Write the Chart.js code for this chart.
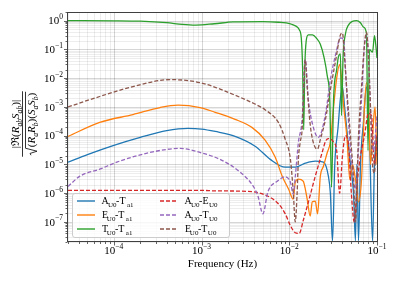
<!DOCTYPE html>
<html>
<head>
<meta charset="utf-8">
<script src="https://cdn.jsdelivr.net/npm/chart.js@4.4.0/dist/chart.umd.min.js"></script>
<style>
    html, body { margin: 0; padding: 0; background: #fff; }
</style>
</head>
<body>
<canvas id="grafico" width="399" height="284"></canvas>
<script>
// frequencies (Hz) and values, one pair of arrays per curve
const freqAT = [3e-5, 5e-5, 1e-4, 2e-4, 4e-4, 7e-4, 1e-3, 1.43e-3, 2.41e-3, 4.08e-3, 6.07e-3, 9.0e-3, 1.17e-2, 1.52e-2, 1.98e-2, 2.45e-2, 2.79e-2, 2.94e-2, 3.11e-2, 3.30e-2, 3.60e-2, 3.83e-2, 4.04e-2, 4.27e-2, 4.60e-2, 4.98e-2, 5.40e-2, 5.68e-2, 5.90e-2, 6.15e-2, 6.48e-2, 7.01e-2, 7.59e-2, 8.20e-2, 8.89e-2, 9.36e-2, 0.1];
const valAT  = [1.2e-5, 2.2e-5, 4.6e-5, 8.7e-5, 1.5e-4, 1.8e-4, 1.7e-4, 1.4e-4, 9.5e-5, 4.3e-5, 1.5e-5, 8e-6, 8e-6, 1.1e-5, 1.3e-5, 1.2e-5, 3.9e-6, 1e-6, 2.2e-8, 1e-5, 2e-4, 2e-3, 5e-3, 1e-3, 1e-4, 1e-5, 1e-6, 2.2e-8, 1e-5, 2.2e-8, 1e-5, 3e-4, 5e-3, 1e-4, 2.2e-8, 1e-5, 1e-4];

const freqET = [3e-5, 6.9e-5, 1.65e-4, 3.36e-4, 5.4e-4, 9.6e-4, 1.43e-3, 2.41e-3, 3.78e-3, 5.3e-3, 6.9e-3, 8.3e-3, 9.8e-3, 1.11e-2, 1.17e-2, 1.27e-2, 1.44e-2, 1.60e-2, 1.73e-2, 1.83e-2, 1.98e-2, 2.10e-2, 2.26e-2, 2.45e-2, 2.71e-2, 2.94e-2, 3.20e-2, 3.47e-2, 3.75e-2, 3.94e-2, 4.18e-2, 4.55e-2, 4.90e-2, 5.25e-2, 5.68e-2, 6.15e-2, 6.66e-2, 7.20e-2, 7.59e-2, 7.99e-2, 8.43e-2, 8.89e-2, 9.50e-2, 0.1];
const valET  = [9.4e-5, 2.9e-4, 5.4e-4, 9.5e-4, 1.15e-3, 9.5e-4, 6.5e-4, 3.7e-4, 1.9e-4, 7e-5, 1.8e-5, 3.9e-6, 1.4e-6, 6.2e-7, 2.4e-6, 3.1e-6, 2.6e-6, 6.2e-7, 1.6e-7, 5e-7, 5.3e-7, 1.9e-7, 3.9e-6, 8.6e-6, 2.6e-5, 6e-5, 1e-3, 1e-2, 3e-2, 1e-2, 1e-3, 8e-5, 3e-6, 1e-5, 3e-6, 5e-7, 3e-6, 1e-3, 7e-3, 2e-3, 1e-5, 1e-4, 1e-3, 1e-5];

const freqTT = [3e-5, 1e-4, 2e-4, 4e-4, 6e-4, 8.5e-4, 1.4e-3, 2.3e-3, 5e-3, 7.5e-3, 1.03e-2, 1.11e-2, 1.23e-2, 1.30e-2, 1.37e-2, 1.42e-2, 1.46e-2, 1.50e-2, 1.56e-2, 1.65e-2, 1.84e-2, 2.03e-2, 2.26e-2, 2.50e-2, 2.71e-2, 2.90e-2, 3.03e-2, 3.20e-2, 3.47e-2, 3.63e-2, 3.83e-2, 3.94e-2, 4.10e-2, 4.37e-2, 4.72e-2, 5.25e-2, 5.83e-2, 6.48e-2, 7.01e-2, 7.59e-2, 7.90e-2, 8.20e-2, 8.89e-2, 9.36e-2, 9.80e-2, 0.1];
const valTT  = [1.0, 0.99, 0.96, 0.85, 0.74, 0.70, 0.78, 0.90, 0.93, 0.88, 0.78, 0.71, 0.6, 0.48, 0.25, 0.02, 1.6e-4, 0.02, 0.2, 0.32, 0.32, 0.25, 0.15, 0.05, 0.012, 1.5e-3, 1.6e-6, 2e-3, 0.02, 0.055, 0.07, 5e-4, 0.05, 0.35, 0.7, 0.95, 1.0, 0.85, 0.6, 0.35, 3e-5, 0.1, 0.08, 0.3, 0.1, 0.05];

const freqAE = [3e-5, 1e-4, 1e-3, 1.43e-3, 3.4e-3, 5.3e-3, 7.5e-3, 9.0e-3, 1.03e-2, 1.17e-2, 1.30e-2, 1.44e-2, 1.65e-2, 1.98e-2, 2.38e-2, 2.58e-2, 2.79e-2, 3.20e-2, 3.47e-2, 3.75e-2, 4.04e-2, 4.37e-2, 4.72e-2, 5.10e-2, 5.50e-2, 6.00e-2, 6.48e-2, 7.20e-2, 7.99e-2, 8.65e-2, 9.36e-2, 0.1];
const valAE  = [1.25e-6, 1.25e-6, 1.25e-6, 1.2e-6, 1.15e-6, 8.7e-7, 4.3e-7, 1.9e-7, 7.4e-8, 4.2e-8, 4e-8, 1.1e-7, 4.9e-7, 3.9e-6, 2.7e-5, 6.2e-5, 7.9e-5, 6e-5, 3e-5, 1e-6, 2e-5, 1e-4, 5e-5, 1e-6, 1e-7, 3e-6, 2e-5, 1e-4, 6e-4, 5e-4, 1e-5, 1e-4];

const freqATu = [3e-5, 4.1e-5, 6.9e-5, 1.08e-4, 2.58e-4, 5.7e-4, 9.6e-4, 1.62e-3, 2.75e-3, 3.9e-3, 4.4e-3, 5.0e-3, 5.7e-3, 7.3e-3, 9.0e-3, 1.03e-2, 1.11e-2, 1.17e-2, 1.27e-2, 1.40e-2, 1.52e-2, 1.65e-2, 1.84e-2, 2.15e-2, 2.58e-2, 2.94e-2, 3.37e-2, 3.83e-2, 4.18e-2, 4.37e-2, 4.72e-2, 5.25e-2, 5.68e-2, 6.15e-2, 6.66e-2, 7.20e-2, 7.59e-2, 7.99e-2, 8.43e-2, 9.10e-2, 0.1];
const valATu  = [1.7e-6, 3.9e-6, 6.8e-6, 1.2e-5, 2.6e-5, 3.6e-5, 2.6e-5, 1.5e-5, 5.4e-6, 1.7e-6, 7.8e-7, 1.9e-7, 1.1e-6, 2.6e-6, 3.7e-6, 2.4e-6, 9.3e-7, 3.7e-6, 5.8e-5, 3.6e-4, 4.4e-2, 1.8e-3, 2.5e-4, 8.7e-5, 5.4e-4, 8.8e-3, 6.5e-2, 0.25, 0.2, 2e-2, 3.6e-4, 6.5e-6, 1.4e-6, 3.3e-5, 1.8e-3, 0.14, 0.32, 6.5e-2, 8e-4, 3e-5, 5e-4];

const freqETu = [3e-5, 6.9e-5, 1.65e-4, 4.4e-4, 9.6e-4, 2.3e-3, 4.7e-3, 5.3e-3, 7.5e-3, 9.0e-3, 1.03e-2, 1.11e-2, 1.17e-2, 1.23e-2, 1.27e-2, 1.33e-2, 1.40e-2, 1.52e-2, 1.60e-2, 1.73e-2, 1.88e-2, 2.10e-2, 2.26e-2, 2.58e-2, 2.94e-2, 3.37e-2, 3.83e-2, 4.04e-2, 4.27e-2, 4.60e-2, 4.98e-2, 5.40e-2, 5.68e-2, 6.15e-2, 6.66e-2, 7.20e-2, 7.59e-2, 7.99e-2, 8.43e-2, 8.89e-2, 9.36e-2, 9.80e-2];
const valETu  = [1e-3, 2.3e-3, 5.1e-3, 8.9e-3, 7e-3, 2.7e-3, 1e-3, 8e-4, 2.9e-4, 7.4e-5, 1.5e-5, 1.1e-6, 1e-7, 1.1e-6, 1.5e-5, 5.7e-5, 1.6e-4, 4.4e-2, 4.7e-3, 2.5e-4, 5.7e-5, 3.4e-5, 7.4e-5, 3.6e-4, 4e-3, 4e-2, 0.32, 0.37, 5e-2, 2e-3, 1e-4, 3e-6, 1e-7, 1e-4, 5e-3, 0.15, 0.4, 5e-2, 1e-3, 1e-5, 5e-6, 1e-4];

// legend labels: [main, subscript, main, subscript]
const labels = [
    ["A", "U0", "-T", "a1"],
    ["E", "U0", "-T", "a1"],
    ["T", "U0", "-T", "a1"],
    ["A", "U0", "-E", "U0"],
    ["A", "U0", "-T", "U0"],
    ["E", "U0", "-T", "U0"]
];
const cores = ["#1f77b4", "#ff7f0e", "#2ca02c", "#d62728", "#9467bd", "#8c564b"];
const tracejado = [false, false, false, true, true, true];

const xDecadas = [-4, -3, -2, -1];          // tick labels 10^n on x
const yDecadas = [-7, -6, -5, -4, -3, -2, -1, 0]; // tick labels 10^n on y

const series = [
    [freqAT, valAT], [freqET, valET], [freqTT, valTT],
    [freqAE, valAE], [freqATu, valATu], [freqETu, valETu]
];

const FONTE = '"Liberation Serif", "DejaVu Serif", serif';

// draws a run of text pieces, k: n normal, i italic, s subscript, si italic subscript
function textoRico(ctx, partes, x, y, tam, desenhar = true) {
    let cx = x;
    for (const [t, k] of partes) {
        const sub = k === "s" || k === "si";
        const ital = k === "i" || k === "si";
        const fs = sub ? tam * 0.7 : tam;
        ctx.font = (ital ? "italic " : "") + fs + "px " + FONTE;
        if (desenhar) ctx.fillText(t, cx, sub ? y + tam * 0.25 : y);
        cx += ctx.measureText(t).width;
    }
    return cx - x;
}

function potencia(ctx, exp, x, y, alinhar) {
    const base = "10", exps = exp === 0 ? "0" : "\u2212" + Math.abs(exp);
    ctx.font = "11px " + FONTE;
    const wb = ctx.measureText(base).width;
    ctx.font = "7.5px " + FONTE;
    const we = ctx.measureText(exps).width;
    let x0 = alinhar === "right" ? x - wb - we : x - (wb + we) / 2;
    ctx.textAlign = "left";
    ctx.textBaseline = "alphabetic";
    ctx.font = "11px " + FONTE;
    ctx.fillText(base, x0, y + 3.7);
    ctx.font = "7.5px " + FONTE;
    ctx.fillText(exps, x0 + wb, y - 1.5);
}

const moldura = {
    id: "moldura",
    beforeDatasetsDraw(chart) {
        const { ctx, chartArea: a, scales } = chart;
        ctx.save();
        ctx.lineWidth = 1;
        // y grid
        for (let d = -8; d <= 0; d++) {
            for (let m = 1; m <= 9; m++) {
                const v = m * Math.pow(10, d);
                if (v < scales.y.min || v > scales.y.max) continue;
                const py = Math.round(scales.y.getPixelForValue(v)) + 0.5;
                ctx.strokeStyle = m === 1 ? "rgba(0,0,0,0.16)" : "rgba(0,0,0,0.07)";
                ctx.beginPath(); ctx.moveTo(a.left, py); ctx.lineTo(a.right, py); ctx.stroke();
            }
        }
        // x grid
        for (let d = -5; d <= -1; d++) {
            for (let m = 1; m <= 9; m++) {
                const v = m * Math.pow(10, d);
                if (v < scales.x.min || v > scales.x.max) continue;
                const px = Math.round(scales.x.getPixelForValue(v)) + 0.5;
                ctx.strokeStyle = m === 1 ? "rgba(0,0,0,0.16)" : "rgba(0,0,0,0.07)";
                ctx.beginPath(); ctx.moveTo(px, a.top); ctx.lineTo(px, a.bottom); ctx.stroke();
            }
        }
        ctx.restore();
    },
    afterDatasetsDraw(chart) {
        const { ctx, chartArea: a, scales } = chart;
        ctx.save();

        // spines
        ctx.strokeStyle = "#404040";
        ctx.lineWidth = 1;
        ctx.strokeRect(Math.round(a.left) - 0.5, Math.round(a.top) + 0.5, Math.round(a.right - a.left) + 1, Math.round(a.bottom - a.top) - 1);

        // tick marks
        ctx.lineWidth = 0.8;
        for (let d = -8; d <= 0; d++) {
            for (let m = 1; m <= 9; m++) {
                const v = m * Math.pow(10, d);
                if (v < scales.y.min || v > scales.y.max) continue;
                const py = Math.round(scales.y.getPixelForValue(v)) + 0.5;
                const len = m === 1 ? 3.5 : 2;
                ctx.beginPath(); ctx.moveTo(a.left - 0.5, py); ctx.lineTo(a.left - 0.5 - len, py); ctx.stroke();
            }
        }
        for (let d = -5; d <= -1; d++) {
            for (let m = 1; m <= 9; m++) {
                const v = m * Math.pow(10, d);
                if (v < scales.x.min || v > scales.x.max) continue;
                const px = Math.round(scales.x.getPixelForValue(v)) + 0.5;
                const len = m === 1 ? 3.5 : 2;
                ctx.beginPath(); ctx.moveTo(px, a.bottom); ctx.lineTo(px, a.bottom + len); ctx.stroke();
            }
        }

        // tick labels
        ctx.fillStyle = "#000";
        yDecadas.forEach(e => potencia(ctx, e, a.left - 5, scales.y.getPixelForValue(Math.pow(10, e)), "right"));
        xDecadas.forEach(e => potencia(ctx, e, scales.x.getPixelForValue(Math.pow(10, e)), a.bottom + 8.5, "center"));

        // x title
        ctx.font = "11px " + FONTE;
        ctx.textAlign = "center";
        ctx.textBaseline = "alphabetic";
        ctx.fillText("Frequency (Hz)", (a.left + a.right) / 2, 267);

        // y title: |Re(Rab Sab)| / sqrt((Ra Rb)(Sa Sb)), rotated
        ctx.save();
        ctx.translate(22.5, 124);
        ctx.rotate(-Math.PI / 2);
        ctx.textAlign = "left";
        const numerador = [["|\u211C(", "n"], ["R", "i"], ["ab", "si"], ["S", "i"], ["ab", "si"], [")|", "n"]];
        const denominador = [["(", "n"], ["R", "i"], ["a", "si"], ["R", "i"], ["b", "si"], [")(", "n"], ["S", "i"], ["a", "si"], ["S", "i"], ["b", "si"], [")", "n"]];
        const tam = 11;
        const wn = textoRico(ctx, numerador, 0, 0, tam, false);
        const wd = textoRico(ctx, denominador, 0, 0, tam, false);
        const raiz = 8;
        const wbar = Math.max(wn, wd + raiz) + 3;
        textoRico(ctx, numerador, -wn / 2, -3.5, tam);
        ctx.strokeStyle = "#000";
        ctx.lineWidth = 0.8;
        ctx.beginPath(); ctx.moveTo(-wbar / 2, 0); ctx.lineTo(wbar / 2, 0); ctx.stroke();
        const dx = -(wd + raiz) / 2;
        const base = 12.5;
        textoRico(ctx, denominador, dx + raiz, base, tam);
        ctx.beginPath();
        ctx.moveTo(dx, base - 4);
        ctx.lineTo(dx + 1.8, base - 5);
        ctx.lineTo(dx + 4, base + 2);
        ctx.lineTo(dx + 7, 3);
        ctx.lineTo(dx + raiz + wd + 1, 3);
        ctx.stroke();
        ctx.restore();

        // legend
        const lx = 72.5, ly = 193.5, lw = 157, lh = 44;
        ctx.fillStyle = "rgba(255,255,255,0.8)";
        ctx.strokeStyle = "#cccccc";
        ctx.lineWidth = 1;
        ctx.beginPath();
        ctx.roundRect(lx, ly, lw, lh, 2.5);
        ctx.fill();
        ctx.stroke();
        labels.forEach((lab, i) => {
            const col = Math.floor(i / 3), lin = i % 3;
            const y0 = 201 + lin * 14;
            const x0 = col === 0 ? 77 : 160;
            ctx.strokeStyle = cores[i];
            ctx.lineWidth = 1.4;
            ctx.setLineDash(tracejado[i] ? [4, 2] : []);
            ctx.beginPath(); ctx.moveTo(x0, y0); ctx.lineTo(x0 + 18, y0); ctx.stroke();
            ctx.setLineDash([]);
            ctx.fillStyle = "#000";
            ctx.textBaseline = "alphabetic";
            textoRico(ctx, [[lab[0], "n"], [lab[1], "s"], [lab[2], "n"], [lab[3], "s"]], x0 + 28, y0 + 3.2, 10);
        });

        ctx.restore();
    }
};

const datasets = series.map(([f, v], i) => ({
    label: labels[i].join(""),
    data: f.map((x, j) => ({ x, y: v[j] })),
    borderColor: cores[i],
    borderWidth: 1.3,
    borderDash: tracejado[i] ? [4, 2] : [],
    pointRadius: 0,
    fill: false,
    cubicInterpolationMode: "monotone",
    order: series.length - i
}));

new Chart(document.getElementById("grafico").getContext("2d"), {
    type: "line",
    data: { datasets },
    options: {
        responsive: false,
        animation: false,
        layout: { padding: { top: 12, right: 22, left: 0, bottom: 0 } },
        plugins: { legend: { display: false }, tooltip: { enabled: false } },
        scales: {
            x: {
                type: "logarithmic", min: 3e-5, max: 0.1,
                grid: { display: false }, border: { display: false }, ticks: { display: false },
                afterFit(s) { s.height = 42; }
            },
            y: {
                type: "logarithmic", min: 2e-8, max: 2,
                grid: { display: false }, border: { display: false }, ticks: { display: false },
                afterFit(s) { s.width = 68; }
            }
        }
    },
    plugins: [moldura]
});
</script>
</body>
</html>
